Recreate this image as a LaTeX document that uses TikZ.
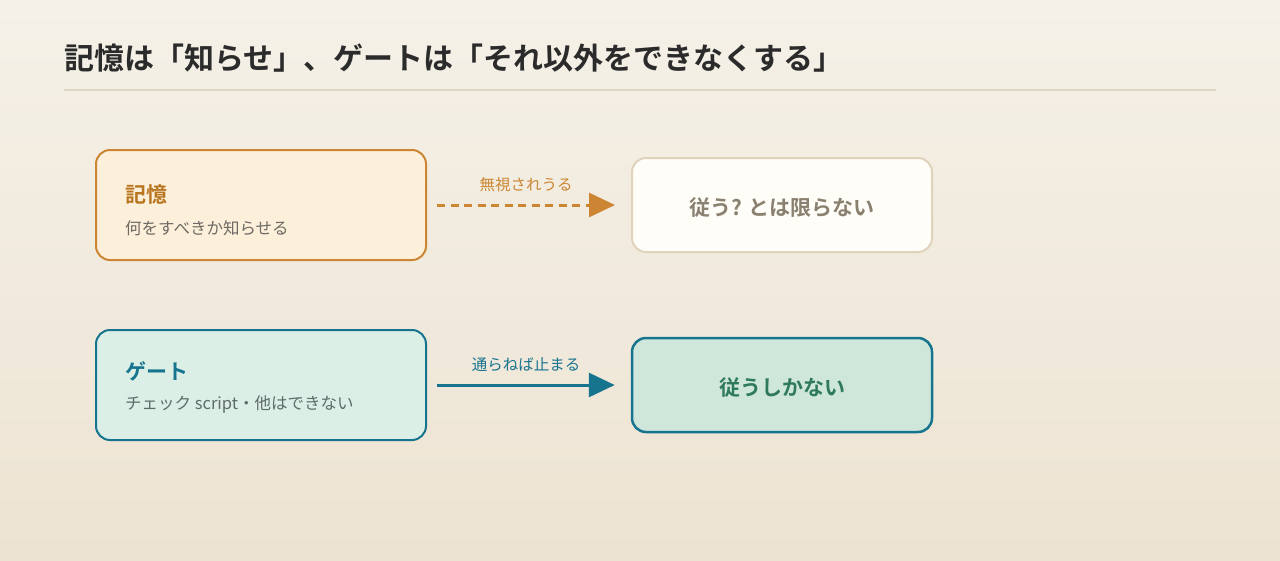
\documentclass[tikz,border=0pt]{standalone}
\usepackage{fontspec}
\setmainfont{Noto Sans CJK JP}[BoldFont={Noto Sans CJK JP Bold}]
\usetikzlibrary{arrows.meta,positioning}
\definecolor{bgtop}{HTML}{F5F1E8}
\definecolor{bgbot}{HTML}{EDE3D2}
\definecolor{inkdark}{HTML}{2B2B2B}
\definecolor{rulecol}{HTML}{DDD6C3}
\definecolor{memline}{HTML}{CC8633}
\definecolor{memfill}{HTML}{FDF0DB}
\definecolor{memhead}{HTML}{B8751F}
\definecolor{subgray}{HTML}{6E6A64}
\definecolor{softfill}{HTML}{FFFDF8}
\definecolor{softline}{HTML}{E0D3BB}
\definecolor{softtext}{HTML}{8A8070}
\definecolor{gateline}{HTML}{17748F}
\definecolor{gatefill}{HTML}{DBEFE6}
\definecolor{gatesub}{HTML}{5E6B6A}
\definecolor{mustfill}{HTML}{CFE7DA}
\definecolor{musttext}{HTML}{2F7A5B}
\newcommand\lowtext[1]{\raisebox{-2.5pt}[\height][\depth]{#1}}
\tikzset{
  card/.style={draw, rounded corners=14pt, line width=2pt, minimum width=330pt, minimum height=110pt, inner sep=0pt},
  result/.style={draw, rounded corners=14pt, line width=2pt, minimum width=300pt, minimum height=94pt, inner sep=0pt, font=\fontsize{21}{25}\selectfont\bfseries},
  cardhead/.style={anchor=west, inner sep=0pt, font=\fontsize{21}{25}\selectfont\bfseries},
  cardsub/.style={anchor=west, inner sep=0pt, font=\fontsize{16.5}{19}\selectfont},
  flow/.style={line width=3pt, -{Triangle[length=26pt,width=24pt]}, shorten >=16pt, shorten <=10pt},
  flowlabel/.style={inner sep=0pt, font=\fontsize{15.5}{18}\selectfont},
}
\begin{document}
\begin{tikzpicture}[x=1pt, y=-1pt]
			%%%%% BACKGROUND %%%%%
			\shade[top color=bgtop, bottom color=bgbot] (0, 0) rectangle (1280, 560);
			\useasboundingbox (0, 0) rectangle (1280, 560);
			
			\node[anchor=west, inner sep=0pt, text=inkdark, font=\fontsize{30}{35}\selectfont\bfseries] (title) at (64, 58) {記憶は「知らせ」、ゲートは「それ以外をできなくする」};
			\draw[rulecol, line width=2pt] (64, 90) -- (1216, 90);
			
			%%%%% MEMORY ROW %%%%%
			\node[card, draw=memline, fill=memfill] (mem) at (261, 205) {};
			\node[cardhead, text=memhead] (memhead) at (125, 195) {記憶};
			\node[cardsub, text=subgray] (memsub) at (125, 228) {何をすべきか知らせる};
			
			\node[result, draw=softline, fill=softfill, text=softtext] (memout) at (782, 205) {\lowtext{従う? とは限らない}};
			
			\draw[flow, memline, dash pattern=on 8pt off 5.5pt] (mem) -- (memout);
			\node[flowlabel, text=memline] (memlabel) at (526, 185) {無視されうる};
			
			%%%%% GATE ROW %%%%%
			\node[card, draw=gateline, fill=gatefill] (gate) at (261, 385) {};
			\node[cardhead, text=gateline] (gatehead) at (125, 371) {ゲート};
			\node[cardsub, text=gatesub] (gatesub) at (125, 404) {チェック script・他はできない};
			
			\node[result, draw=gateline, fill=mustfill, text=musttext, line width=2.5pt] (gateout) at (782, 385) {\lowtext{従うしかない}};
			
			\draw[flow, gateline] (gate) -- (gateout);
			\node[flowlabel, text=gateline] (gatelabel) at (526, 365) {通らねば止まる};
\end{tikzpicture}
\end{document}
